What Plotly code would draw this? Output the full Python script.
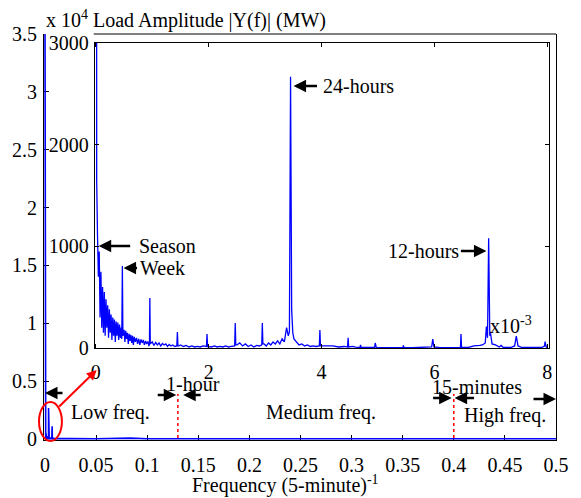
import plotly.graph_objects as go

# ---------------- data ----------------
# Inset spectrum: frequency in units of 1e-3 (5-minute)^-1, amplitude in MW
inset_freq = [
    0.0, 0.015, 0.03, 0.045, 0.06, 0.075, 0.09, 0.105, 0.12, 0.135, 0.15, 0.165, 0.18, 0.195,
    0.21, 0.225, 0.24, 0.255, 0.27, 0.285, 0.30, 0.315, 0.33, 0.345, 0.36, 0.375, 0.39, 0.405,
    0.42, 0.435, 0.45, 0.46, 0.47, 0.48, 0.50, 0.515, 0.53, 0.545, 0.56, 0.575, 0.59, 0.605,
    0.62, 0.635, 0.65, 0.665, 0.68, 0.70, 0.72, 0.74, 0.76, 0.78, 0.80, 0.82, 0.84, 0.86,
    0.88, 0.90, 0.92, 0.94, 0.95, 0.957, 0.965, 0.98, 1.0, 1.03, 1.06, 1.09, 1.12, 1.15,
    1.18, 1.21, 1.24, 1.27, 1.30, 1.33, 1.36, 1.40, 1.435, 1.445, 1.455, 1.47, 1.50, 1.55,
    1.60, 1.65, 1.70, 1.75, 1.80, 1.85, 1.90, 1.96, 1.97, 1.98, 2.0, 2.05, 2.1, 2.15, 2.2,
    2.25, 2.3, 2.35, 2.4, 2.46, 2.47, 2.48, 2.5, 2.55, 2.6, 2.65, 2.7, 2.75, 2.8, 2.85, 2.9,
    2.94, 2.95, 2.96, 2.98, 3.02, 3.06, 3.1, 3.14, 3.18, 3.22, 3.26, 3.3, 3.34, 3.38, 3.41,
    3.43, 3.45, 3.47, 3.49, 3.51, 3.55, 3.6, 3.65, 3.7, 3.75, 3.8, 3.85, 3.9, 3.96, 3.97,
    3.98, 4.0, 4.1, 4.2, 4.3, 4.4, 4.46, 4.47, 4.48, 4.55, 4.6, 4.68, 4.69, 4.70, 4.8, 4.94,
    4.95, 4.97, 5.1, 5.3, 5.44, 5.45, 5.46, 5.6, 5.8, 5.95, 5.97, 5.99, 6.1, 6.3, 6.46, 6.47,
    6.48, 6.6, 6.7, 6.8, 6.85, 6.9, 6.92, 6.94, 6.96, 6.98, 6.99, 7.02, 7.08, 7.15, 7.18,
    7.22, 7.35, 7.42, 7.45, 7.48, 7.55, 7.7, 7.9, 7.95, 7.96, 7.98, 8.0,
]
inset_amp = [
    35000, 1650, 1100, 700, 950, 300, 750, 200, 600, 150, 550, 120, 480, 200,
    420, 100, 380, 150, 330, 80, 300, 120, 280, 60, 260, 120, 250, 80,
    230, 100, 200, 90, 806, 120, 180, 60, 170, 90, 150, 40, 140, 70,
    130, 50, 120, 30, 110, 60, 100, 40, 90, 30, 85, 50, 80, 30,
    70, 40, 65, 25, 30, 492, 40, 50, 60, 25, 55, 30, 50, 20,
    45, 30, 40, 15, 35, 20, 30, 15, 20, 157, 20, 20, 30, 15,
    25, 10, 20, 10, 15, 10, 20, 15, 138, 15, 15, 10, 20, 10, 15,
    10, 20, 10, 15, 20, 245, 30, 30, 50, 20, 40, 15, 30, 10, 25, 20,
    30, 245, 40, 40, 20, 50, 30, 60, 40, 70, 40, 90, 60, 200, 120,
    160, 2668, 375, 150, 90, 60, 30, 40, 20, 30, 15, 20, 15, 20, 177,
    20, 20, 15, 20, 10, 15, 10, 101, 10, 15, 8, 5, 30, 5, 5, 5,
    49, 5, 3, 3, 3, 25, 3, 3, 3, 10, 88, 10, 3, 3, 5, 138,
    5, 5, 20, 25, 30, 50, 210, 100, 1079, 120, 160, 40, 30, 10, 25,
    5, 5, 20, 118, 20, 5, 5, 5, 20, 62, 10, 5,
]
# Remainder of the spectrum in the main axes (frequency in (5-minute)^-1, MW)
tail_freq = [0.009, 0.0125, 0.0167, 0.025, 0.05, 0.0833, 0.1, 0.15, 0.2, 0.25, 0.3, 0.333, 0.35, 0.4, 0.45, 0.5]
tail_amp = [30, 40, 25, 15, 10, 60, 8, 6, 5, 5, 4, 20, 4, 3, 3, 3]

main_xticks = [0, 0.05, 0.1, 0.15, 0.2, 0.25, 0.3, 0.35, 0.4, 0.45, 0.5]
main_xticktext = ["0", "0.05", "0.1", "0.15", "0.2", "0.25", "0.3", "0.35", "0.4", "0.45", "0.5"]
main_yticks = [0, 0.5, 1, 1.5, 2, 2.5, 3, 3.5]
main_yticktext = ["0", "0.5", "1", "1.5", "2", "2.5", "3", "3.5"]
inset_xticks = [0, 2, 4, 6, 8]
inset_yticks = [0, 1000, 2000, 3000]
band_edges = [0.13, 0.4]

# ---------------- figure ----------------
FONT = "Liberation Serif"
FS = 20
BLUE = "#0000ff"

main_x = [f * 1e-3 for f in inset_freq] + tail_freq
main_y = [a / 1e4 for a in inset_amp] + [a / 1e4 for a in tail_amp]

fig = go.Figure()
fig.add_trace(go.Scatter(x=main_x, y=main_y, mode="lines",
                         line=dict(color=BLUE, width=1.6), xaxis="x", yaxis="y",
                         showlegend=False, hoverinfo="skip"))
fig.add_trace(go.Scatter(x=inset_freq, y=inset_amp, mode="lines",
                         line=dict(color=BLUE, width=1.3), xaxis="x2", yaxis="y2",
                         showlegend=False, hoverinfo="skip"))

L, R, T, B = 42, 24, 34, 58
W, H = 581, 498
PW, PH = W - L - R, H - T - B


def px(x):
    return (x - L) / PW


def py(y):
    return (H - B - y) / PH


axis_common = dict(showgrid=False, zeroline=False, showline=True, linecolor="black",
                   linewidth=1, ticks="inside", tickcolor="black",
                   tickfont=dict(family=FONT, size=FS, color="black"))

fig.update_layout(
    width=W, height=H, margin=dict(l=L, r=R, t=T, b=B),
    paper_bgcolor="white", plot_bgcolor="white",
    font=dict(family=FONT, size=FS, color="black"),
    xaxis=dict(domain=[0, 1], range=[-0.001, 0.5], tickvals=main_xticks, ticktext=main_xticktext,
               ticklen=5, mirror=False, layer="below traces", ticklabelstandoff=7, **axis_common),
    yaxis=dict(domain=[0, 1], range=[-0.01, 3.5], tickvals=main_yticks, ticktext=main_yticktext,
               ticklen=5, mirror=True, layer="below traces", ticklabelstandoff=2, **axis_common),
    xaxis2=dict(domain=[px(93), px(550)], range=[-0.02, 8.03], anchor="y2", tickvals=inset_xticks,
                ticklen=4, mirror="ticks", ticklabelstandoff=6, **axis_common),
    yaxis2=dict(domain=[py(348), py(43)], range=[0, 3000], anchor="x2", tickvals=inset_yticks,
                ticklen=4, mirror="ticks", ticklabelstandoff=1, **axis_common),
)

shapes = []
# top border of main axes (partial, as in reference)
shapes.append(dict(type="line", xref="paper", yref="paper", x0=px(92), x1=1, y0=1, y1=1,
                   line=dict(color="black", width=1)))
# red ellipse around the low-frequency peaks
shapes.append(dict(type="circle", xref="paper", yref="paper", x0=px(37), x1=px(60),
                   y0=py(441), y1=py(402), line=dict(color="red", width=2)))
# red dotted band boundaries
for xb in band_edges:
    shapes.append(dict(type="line", xref="x", yref="paper", x0=xb, x1=xb, y0=py(438), y1=py(394),
                       line=dict(color="red", width=1.5, dash="dot")))
fig.update_layout(shapes=shapes)

ann = []


def text(x, y, s, xanchor="left", xref="paper", yref="paper", yanchor="middle"):
    ann.append(dict(x=x, y=y, xref=xref, yref=yref, text=s, showarrow=False,
                    xanchor=xanchor, yanchor=yanchor,
                    font=dict(family=FONT, size=FS, color="black")))


def arrow(hx, hy, tx, ty, color="black", width=2.5):
    # head at pixel (hx, hy), tail at pixel (tx, ty)
    ann.append(dict(x=px(hx), y=py(hy), xref="paper", yref="paper", text="",
                    showarrow=True, ax=tx - hx, ay=ty - hy, axref="pixel", ayref="pixel",
                    arrowhead=2, arrowsize=1, arrowwidth=width, arrowcolor=color))


# title
text(px(42), py(20), "x 10<sup>4</sup> Load Amplitude |Y(f)| (MW)")
# x axis title
text(px(285), py(484), "Frequency (5-minute)<sup>-1</sup>", xanchor="center")
# inset labels
text(px(321), py(86), "24-hours")
arrow(293, 86, 318, 86)
text(px(136), py(246), "Season")
arrow(97, 246, 130, 246)
text(px(137), py(268), "Week")
arrow(122, 268, 137, 268)
text(px(461), py(251), "12-hours", xanchor="right")
arrow(487, 251, 460, 251)
text(px(489), py(325), "x10<sup>-3</sup>")
# main labels
arrow(43, 393, 62, 393)
arrow(95, 370, 56, 408, color="red", width=2)
text(px(67), py(412), "Low freq.")
text(px(192), py(384), "1-hour", xanchor="center")
arrow(175, 395, 155, 395)
arrow(182, 395, 201, 395)
text(px(321), py(412), "Medium freq.", xanchor="center")
text(px(478), py(387), "15-minutes", xanchor="center")
arrow(452, 398, 432, 398)
arrow(455, 398, 476, 398)
text(px(506), py(415), "High freq.", xanchor="center")
arrow(557, 399, 533, 399)

fig.update_layout(annotations=ann)
fig.write_html("out.html")
